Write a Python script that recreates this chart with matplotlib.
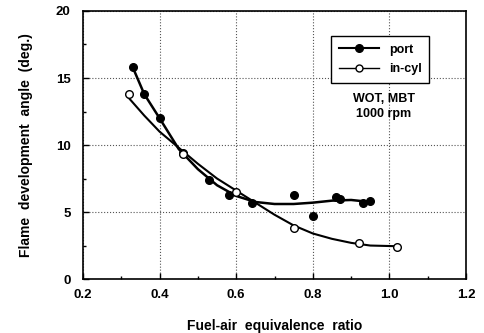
import numpy as np
import matplotlib
matplotlib.use('Agg')
import matplotlib.pyplot as plt

plt.rcParams['font.family'] = ['Liberation Sans', 'DejaVu Sans']
plt.rcParams['font.weight'] = 'bold'
plt.rcParams['axes.labelweight'] = 'bold'

# measured points
port_x = [0.33, 0.36, 0.40, 0.46, 0.53, 0.58, 0.64, 0.75, 0.80, 0.86, 0.87, 0.93, 0.95]
port_y = [15.8, 13.8, 12.0, 9.4, 7.4, 6.3, 5.7, 6.3, 4.7, 6.1, 6.0, 5.7, 5.8]
cyl_x = [0.32, 0.46, 0.60, 0.75, 0.92, 1.02]
cyl_y = [13.8, 9.3, 6.5, 3.8, 2.7, 2.4]

# fitted curves
port_fit_x = [0.33, 0.36, 0.40, 0.45, 0.50, 0.55, 0.60, 0.65, 0.70, 0.75, 0.80, 0.85, 0.90, 0.95]
port_fit_y = [15.8, 13.8, 12.0, 9.7, 8.2, 7.0, 6.2, 5.75, 5.6, 5.6, 5.7, 5.85, 5.9, 5.75]
cyl_fit_x = [0.32, 0.36, 0.40, 0.45, 0.50, 0.55, 0.60, 0.65, 0.70, 0.75, 0.80, 0.85, 0.90, 0.95, 1.02]
cyl_fit_y = [13.5, 12.2, 11.0, 9.8, 8.6, 7.5, 6.6, 5.7, 4.8, 4.0, 3.4, 3.0, 2.7, 2.5, 2.45]

fig = plt.figure(figsize=(4.85, 3.33), dpi=100)
ax = fig.add_axes([0.171, 0.162, 0.79, 0.805])

ax.plot(port_fit_x, port_fit_y, color='black', lw=1.8)
ax.plot(cyl_fit_x, cyl_fit_y, color='black', lw=1.5)
ax.plot(port_x, port_y, 'o', color='black', ms=5.5)
ax.plot(cyl_x, cyl_y, 'o', mfc='white', mec='black', mew=1.0, ms=5.5)

# legend proxies
ax.plot([], [], '-o', color='black', lw=1.5, ms=5.5, label='port')
ax.plot([], [], '-o', color='black', lw=1.0, mfc='white', mec='black', ms=5, label='in-cyl')
leg = ax.legend(loc='upper right', bbox_to_anchor=(0.92, 0.93), fancybox=False,
                edgecolor='black', framealpha=1, handlelength=3.2, fontsize=9,
                borderpad=0.6, labelspacing=0.6, prop={'weight': 'bold', 'size': 9})
leg.get_frame().set_linewidth(1.0)

ax.text(0.785, 0.645, 'WOT, MBT\n1000 rpm', transform=ax.transAxes, ha='center',
        va='center', fontsize=9, fontweight='bold', linespacing=1.3)

ax.set_xlim(0.2, 1.2)
ax.set_ylim(0, 20)
ax.set_xticks([0.2, 0.4, 0.6, 0.8, 1.0, 1.2])
ax.set_xticklabels(['0.2', '0.4', '0.6', '0.8', '1.0', '1.2'], fontweight='bold')
ax.set_yticks([0, 5, 10, 15, 20])
ax.set_yticklabels(['0', '5', '10', '15', '20'], fontweight='bold')
ax.set_yticks(np.arange(2.5, 20, 5), minor=True)
ax.set_xticks(np.arange(0.3, 1.2, 0.2), minor=True)
ax.tick_params(direction='in', length=4, width=1, labelsize=9.5)
ax.tick_params(axis='x', pad=7)
ax.tick_params(axis='y', pad=9)
ax.tick_params(which='minor', direction='in', length=2.5, width=1)
ax.grid(True, which='major', ls=':', color='#555555', lw=0.8)
for s in ax.spines.values():
    s.set_linewidth(1.2)

ax.set_xlabel('Fuel-air  equivalence  ratio', fontsize=10, fontweight='bold', labelpad=13)
ax.set_ylabel('Flame  development  angle  (deg.)', fontsize=10, fontweight='bold', labelpad=16)

fig.savefig('out.png', dpi=100)
